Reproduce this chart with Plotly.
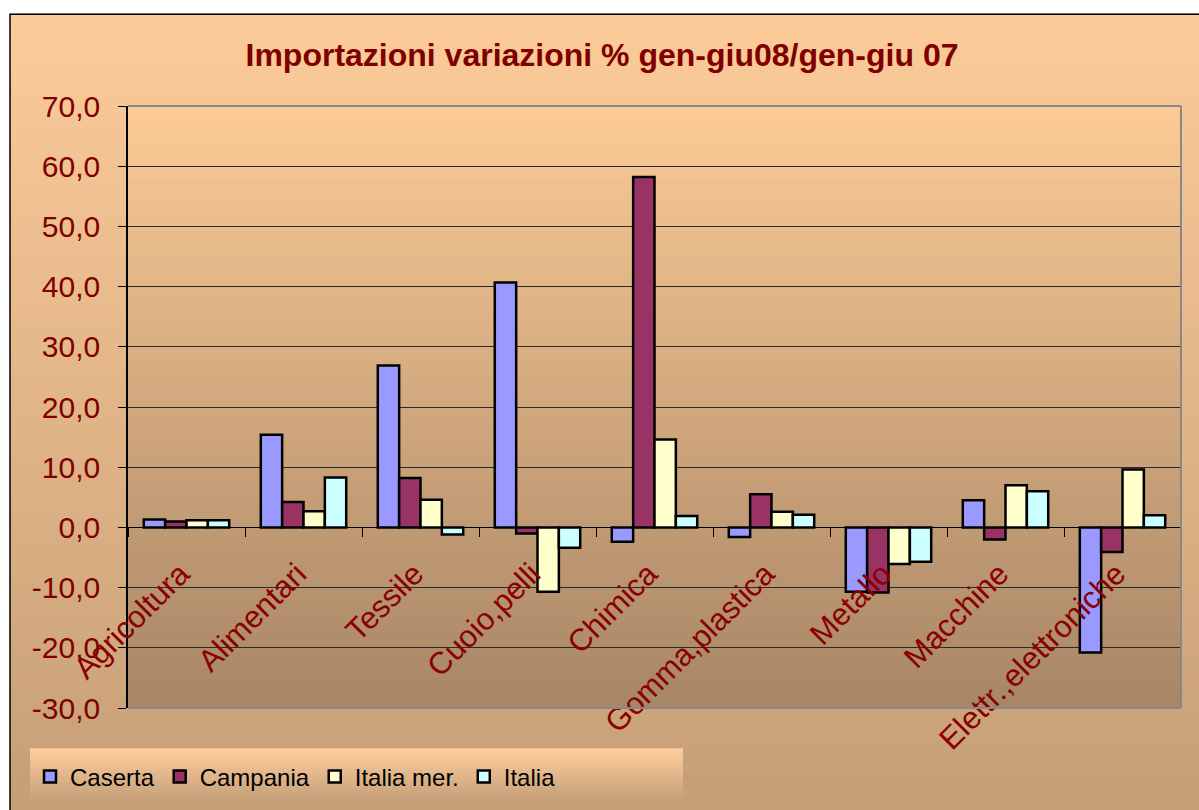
import plotly.graph_objects as go

categories = ["Agricoltura", "Alimentari", "Tessile", "Cuoio,pelli", "Chimica",
              "Gomma,plastica", "Metallo", "Macchine", "Elettr.,elettroniche"]
caserta = [1.3, 15.4, 26.9, 40.7, -2.4, -1.6, -10.7, 4.5, -20.8]
campania = [1.0, 4.2, 8.2, -1.0, 58.2, 5.5, -10.8, -2.0, -4.1]
italia_mer = [1.2, 2.7, 4.6, -10.7, 14.6, 2.6, -6.1, 7.0, 9.6]
italia = [1.2, 8.3, -1.2, -3.4, 1.9, 2.1, -5.7, 6.0, 2.0]
series_names = ["Caserta", "Campania", "Italia mer.", "Italia"]
series_colors = ["#9999FF", "#993366", "#FFFFCC", "#CCFFFF"]
y_ticks = [-30, -20, -10, 0, 10, 20, 30, 40, 50, 60, 70]
y_ticktext = [("%.1f" % v).replace(".", ",") for v in y_ticks]

W, H = 1199, 810
L, R, T, B = 128, 18, 106, 101
pw, ph = W - L - R, H - T - B


def px_x(x):
    return (x - L) / pw


def px_y(y):
    return (H - B - y) / ph


def gradient(x0, x1, y0, y1, c_top, c_bot, n=80, xref="paper", yref="paper"):
    shapes = []
    for i in range(n):
        f = i / (n - 1)
        c = tuple(int(round(c_top[k] + (c_bot[k] - c_top[k]) * f)) for k in range(3))
        ya = y1 - (y1 - y0) * i / n
        yb = y1 - (y1 - y0) * (i + 1) / n
        shapes.append(dict(type="rect", xref=xref, yref=yref, x0=x0, x1=x1,
                           y0=yb - 0.001, y1=ya + 0.001, line=dict(width=0),
                           fillcolor="rgb(%d,%d,%d)" % c, layer="below"))
    return shapes


shapes = []
# outer chart area
shapes += gradient(px_x(10), px_x(1215), px_y(825), px_y(14), (252, 203, 153), (197, 158, 118))
shapes.append(dict(type="rect", xref="paper", yref="paper", x0=px_x(10), x1=px_x(1215),
                   y0=px_y(825), y1=px_y(14), line=dict(color="black", width=1.5), layer="below"))
# plot area
shapes += gradient(0, 1, 0, 1, (251, 202, 150), (168, 134, 102))
# legend box
shapes += gradient(px_x(30), px_x(683), px_y(800), px_y(750), (255, 206, 156), (200, 162, 124), n=30)
# plot area border (top, right, bottom)
for (x0, x1, y0, y1) in [(0, 1, 1, 1), (1, 1, 0, 1), (0, 1, 0, 0)]:
    shapes.append(dict(type="line", xref="paper", yref="paper", x0=x0, x1=x1, y0=y0, y1=y1,
                       line=dict(color="#888888", width=2)))

fig = go.Figure()
for name, vals, col in zip(series_names, [caserta, campania, italia_mer, italia], series_colors):
    fig.add_trace(go.Bar(x=categories, y=vals, name=name,
                         marker=dict(color=col, line=dict(color="black", width=2.5))))

fig.update_layout(
    width=W, height=H,
    margin=dict(l=L, r=R, t=T, b=B),
    paper_bgcolor="white",
    plot_bgcolor="rgba(0,0,0,0)",
    barmode="group",
    bargap=0.27,
    bargroupgap=0,
    font=dict(family="Liberation Sans, Arial, sans-serif"),
    title=dict(text="<b>Importazioni variazioni % gen-giu08/gen-giu 07</b>",
               x=602 / W, xanchor="center", y=1 - 55 / H, yanchor="middle",
               font=dict(size=32, color="#800000")),
    shapes=shapes,
    legend=dict(orientation="h", x=px_x(30), y=px_y(777), xanchor="left", yanchor="middle",
                bgcolor="rgba(0,0,0,0)",
                font=dict(size=24, color="black"),
                itemwidth=30, traceorder="normal"),
    xaxis=dict(anchor="free", position=0.3, showgrid=False, showline=True,
               linecolor="black", linewidth=1, ticks="outside", tickson="boundaries",
               ticklen=9, tickcolor="black", tickangle=-45,
               ticklabelstandoff=15, ticklabelshift=-6,
               tickfont=dict(size=31, color="#8B0000"), automargin=False),
    yaxis=dict(range=[-30, 70], tickvals=y_ticks, ticktext=y_ticktext,
               showgrid=True, gridcolor="#2a2a2a", gridwidth=1,
               zeroline=False, showline=True, linecolor="black", linewidth=1.5,
               ticks="outside", ticklen=8, tickcolor="black", ticklabelstandoff=12,
               tickfont=dict(size=30, color="#800000"), automargin=False),
)

fig.write_html("out.html", config={"displayModeBar": False},
               post_script="document.body.style.margin='0';")
